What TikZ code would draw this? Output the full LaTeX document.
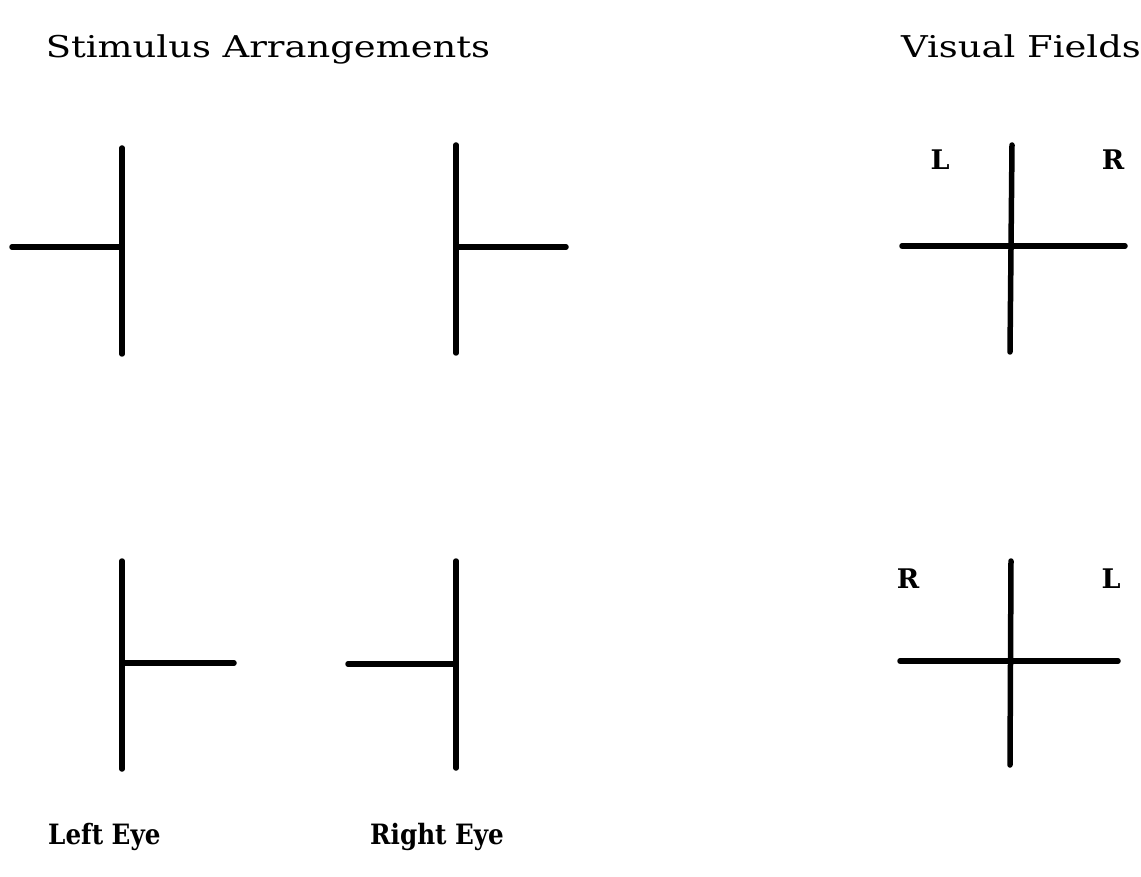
\documentclass[tikz,border=0pt]{standalone}
\usepackage{fontspec}
\setmainfont{DejaVu Serif}
\newfontfamily\typefont[FakeStretch=1.23]{DejaVu Serif}
\newfontfamily\eyefont[FakeStretch=0.88]{DejaVu Serif}
\usepackage{tikz}
\usetikzlibrary{positioning,calc}
\tikzset{
  barline/.style={line width=5.5pt,line cap=round,draw=black},
  headtext/.style={inner sep=0pt,font=\typefont\fontsize{30}{36}\selectfont},
  fieldtext/.style={inner sep=0pt,font=\fontsize{27}{32}\selectfont\bfseries},
  eyetext/.style={inner sep=0pt,font=\eyefont\fontsize{28}{32}\selectfont\bfseries}
}

\begin{document}
\begin{tikzpicture}[x=1pt,y=-1pt]
\path[use as bounding box,fill=white] (0,0) rectangle (1141,877);
% headings
\node[headtext,anchor=base] (stimhead) at (268,58) {Stimulus Arrangements};
\node[headtext,anchor=base east] (fieldhead) at (1141,58) {Visual Fields};
% top row: stimuli
\coordinate (tlTop) at (122,148);
\coordinate (tlBot) at (122,354);
\coordinate (tlMid) at (122,247);
\coordinate (tlEnd) at (12,247);
\draw[barline] (tlTop)--(tlBot);
\draw[barline] (tlEnd)--(tlMid);
\coordinate (tmTop) at (456,145);
\coordinate (tmBot) at (456,353);
\coordinate (tmMid) at (456,247);
\coordinate (tmEnd) at (566,247);
\draw[barline] (tmTop)--(tmBot);
\draw[barline] (tmMid)--(tmEnd);
% top row: visual field
\coordinate (trTop) at (1012,145);
\coordinate (trBot) at (1010,352);
\coordinate (trLeft) at (902,246);
\coordinate (trRight) at (1125,246);
\draw[barline] (trTop)--(trBot);
\draw[barline] (trLeft)--(trRight);
\node[fieldtext,anchor=base] (trL) at (940,170) {L};
\node[fieldtext,anchor=base] (trR) at (1113,170) {R};
% bottom row: stimuli
\coordinate (blTop) at (122,561);
\coordinate (blBot) at (122,769);
\coordinate (blMid) at (122,663);
\coordinate (blEnd) at (234,663);
\draw[barline] (blTop)--(blBot);
\draw[barline] (blMid)--(blEnd);
\coordinate (bmTop) at (456,561);
\coordinate (bmBot) at (456,768);
\coordinate (bmMid) at (456,664);
\coordinate (bmEnd) at (348,664);
\draw[barline] (bmTop)--(bmBot);
\draw[barline] (bmEnd)--(bmMid);
% bottom row: visual field
\coordinate (brTop) at (1011,561);
\coordinate (brBot) at (1010,765);
\coordinate (brLeft) at (900,661);
\coordinate (brRight) at (1118,661);
\draw[barline] (brTop)--(brBot);
\draw[barline] (brLeft)--(brRight);
\node[fieldtext,anchor=base] (brR) at (908,588) {R};
\node[fieldtext,anchor=base] (brL) at (1111,588) {L};
% eye labels
\node[eyetext,anchor=base west] (lefteye) at (48,844) {Left Eye};
\node[eyetext,anchor=base west] (righteye) at (370,844) {Right Eye};
\end{tikzpicture}
\end{document}
